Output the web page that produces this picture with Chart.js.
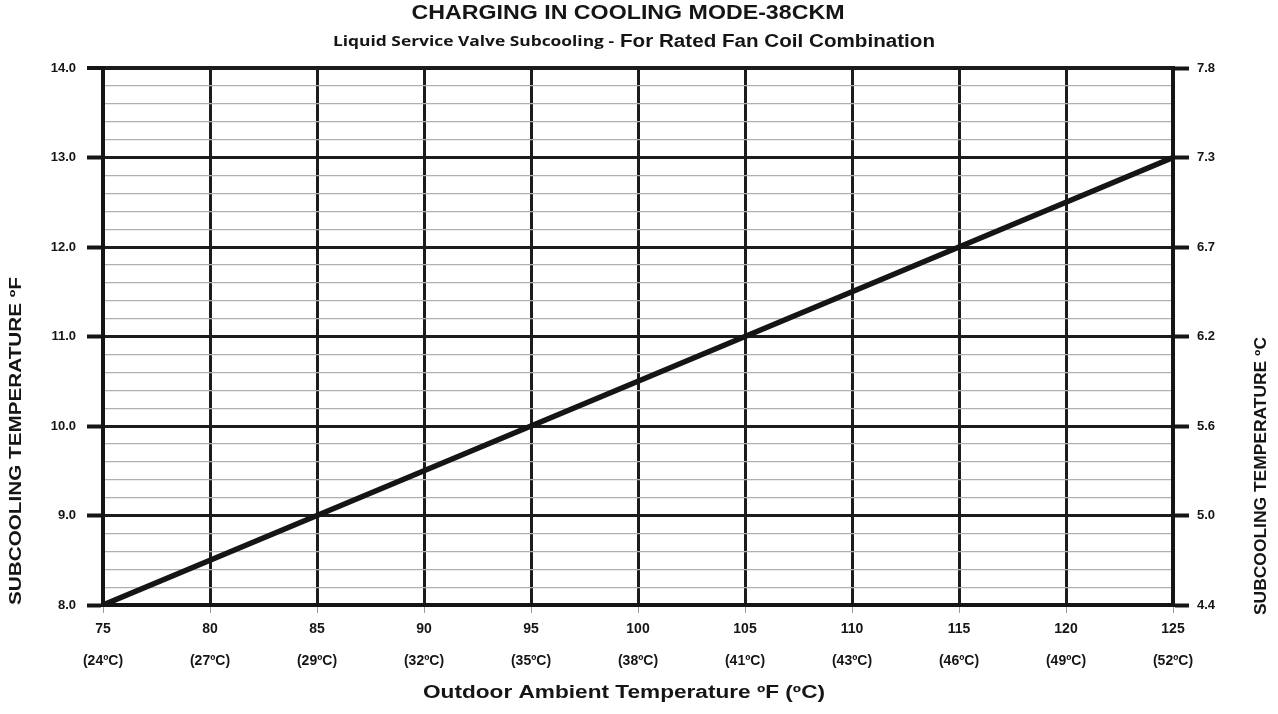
<!DOCTYPE html>
<html>
<head>
<meta charset="utf-8">
<title>Charging in Cooling Mode - 38CKM</title>
<script src="https://cdn.jsdelivr.net/npm/chart.js@4.4.1/dist/chart.umd.min.js"></script>
<style>
  html, body { margin: 0; padding: 0; background: #fff; }
  #wrap { width: 1278px; height: 714px; }
</style>
</head>
<body>
<div id="wrap"><canvas id="chargeChart" width="1278" height="714"></canvas></div>
<script>
// outdoor ambient temperature (°F) and required subcooling (°F)
const outdoorF = [75, 80, 85, 90, 95, 100, 105, 110, 115, 120, 125];
const subcoolF = [8.0, 8.5, 9.0, 9.5, 10.0, 10.5, 11.0, 11.5, 12.0, 12.5, 13.0];

// secondary tick labels
const outdoorC = ['(24ºC)', '(27ºC)', '(29ºC)', '(32ºC)', '(35ºC)', '(38ºC)', '(41ºC)', '(43ºC)', '(46ºC)', '(49ºC)', '(52ºC)'];
const subcoolTicksF = [8, 9, 10, 11, 12, 13, 14];
const subcoolTicksC = ['4.4', '5.0', '5.6', '6.2', '6.7', '7.3', '7.8'];

const FONT = "'Liberation Sans', Arial, Helvetica, sans-serif";
const INK = '#151515';

function isWhole(v) {
    return Math.abs(v - Math.round(v)) < 1e-6;
}

// draws text squeezed/stretched to a given width
function fitText(ctx, text, font, x, y, w, align, rot) {
    ctx.save();
    ctx.font = font;
    ctx.fillStyle = INK;
    ctx.translate(x, y);
    if (rot) ctx.rotate(rot);
    const m = ctx.measureText(text).width;
    ctx.scale(w / m, 1);
    ctx.textAlign = align || 'center';
    ctx.textBaseline = 'middle';
    ctx.fillText(text, 0, 0);
    ctx.restore();
}

const titlesPlugin = {
    id: 'titles',
    afterDraw(chart) {
        const ctx = chart.ctx;
        fitText(ctx, 'CHARGING IN COOLING MODE-38CKM', 'bold 21px ' + FONT, 628, 13, 433);
        fitText(ctx, 'Liquid Service Valve Subcooling -', "bold 15px 'Open Sans', 'Noto Sans', sans-serif", 333, 42, 281, 'left');
        fitText(ctx, 'For Rated Fan Coil Combination', 'bold 18px ' + FONT, 620, 42, 315, 'left');
        fitText(ctx, 'Outdoor Ambient Temperature ºF (ºC)', 'bold 18px ' + FONT, 624, 693, 402);
        fitText(ctx, 'SUBCOOLING TEMPERATURE ºF', 'bold 16px ' + FONT, 17, 441, 328, 'center', -Math.PI / 2);
        fitText(ctx, 'SUBCOOLING TEMPERATURE ºC', 'bold 16px ' + FONT, 1262, 476, 278, 'center', -Math.PI / 2);
    }
};

const ctx = document.getElementById('chargeChart').getContext('2d');
new Chart(ctx, {
    type: 'line',
    data: {
        labels: outdoorF,
        datasets: [{
            label: 'Subcooling',
            data: outdoorF.map((t, i) => ({ x: t, y: subcoolF[i] })),
            borderColor: INK,
            borderWidth: 5.5,
            pointRadius: 0,
            fill: false,
            tension: 0
        }]
    },
    options: {
        responsive: false,
        animation: false,
        layout: { padding: { top: 68, left: 0, right: 0, bottom: 0 } },
        plugins: {
            legend: { display: false },
            title: { display: false },
            tooltip: { enabled: false }
        },
        scales: {
            x: {
                type: 'linear',
                min: 75,
                max: 125,
                afterFit: s => { s.height = 109; },
                afterBuildTicks: s => { s.ticks = outdoorF.map(v => ({ value: v })); },
                border: { display: true, color: INK, width: 4 },
                grid: {
                    color: '#1c1c1c',
                    lineWidth: 3,
                    tickLength: 8,
                    tickColor: '#9a9a9a',
                    tickWidth: 1
                },
                ticks: {
                    padding: 0,
                    color: INK,
                    maxRotation: 0,
                    autoSkip: false,
                    font: { family: FONT, size: 14, weight: 'bold', lineHeight: 2.3 },
                    callback: (v) => {
                        const i = outdoorF.indexOf(v);
                        return [String(v), outdoorC[i]];
                    }
                }
            },
            y: {
                type: 'linear',
                position: 'left',
                min: 8,
                max: 14,
                afterFit: s => { s.width = 103; },
                border: { display: true, color: INK, width: 4 },
                grid: {
                    color: c => isWhole(c.tick.value) ? '#1c1c1c' : '#b0b0b0',
                    lineWidth: c => c.tick.value === 14 ? 4 : (isWhole(c.tick.value) ? 3 : 1.2),
                    tickLength: 16,
                    tickColor: c => isWhole(c.tick.value) ? INK : 'rgba(0,0,0,0)',
                    tickWidth: c => isWhole(c.tick.value) ? 4 : 0
                },
                ticks: {
                    stepSize: 0.2,
                    autoSkip: false,
                    padding: 11,
                    color: INK,
                    font: { family: FONT, size: 13, weight: 'bold' },
                    callback: v => isWhole(v) ? Math.round(v).toFixed(1) : ''
                }
            },
            y2: {
                type: 'linear',
                position: 'right',
                min: 8,
                max: 14,
                afterFit: s => { s.width = 105; },
                afterBuildTicks: s => { s.ticks = subcoolTicksF.map(v => ({ value: v })); },
                border: { display: true, color: INK, width: 4 },
                grid: {
                    drawOnChartArea: false,
                    tickLength: 16,
                    tickColor: INK,
                    tickWidth: 4
                },
                ticks: {
                    autoSkip: false,
                    padding: 8,
                    color: INK,
                    font: { family: FONT, size: 13, weight: 'bold' },
                    callback: v => subcoolTicksC[subcoolTicksF.indexOf(v)]
                }
            }
        }
    },
    plugins: [titlesPlugin]
});
</script>
</body>
</html>
